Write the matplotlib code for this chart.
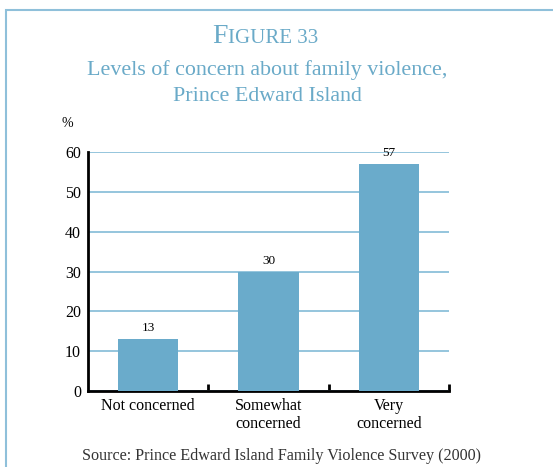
import matplotlib.pyplot as plt
from matplotlib.patches import Rectangle
import numpy as np

# Data
categories = ['Not concerned', 'Somewhat\nconcerned', 'Very\nconcerned']
values = [13, 30, 57]
yticks = [0, 10, 20, 30, 40, 50, 60]

blue = '#6aabcb'
title_col = '#6aaac8'
grid_col = '#8cc0da'
serif = 'Liberation Serif'

W, H = 553, 467
fig = plt.figure(figsize=(W / 100, H / 100), dpi=100)

# outer frame (light blue, cut off at right/bottom)
fig.patches.append(Rectangle((6 / W, -0.1), 1.2, (H - 10) / H + 0.1, transform=fig.transFigure,
                             fill=False, edgecolor='#8fc0da', linewidth=1.5))

ax = fig.add_axes([88 / W, 76 / H, 361 / W, 239 / H])
x = np.arange(len(categories))
ax.bar(x, values, width=0.5, color=blue, zorder=3)
for xi, v in zip(x, values):
    ax.text(xi, v + 1.2, str(v), ha='center', va='bottom', fontsize=9.5, family=serif)

ax.set_xlim(-0.5, 2.5)
ax.set_ylim(0, 60)
ax.set_yticks(yticks)
ax.set_yticklabels([str(t) for t in yticks], family=serif, fontsize=11.5)
ax.tick_params(axis='y', length=0, pad=5)
ax.yaxis.grid(True, color=grid_col, linewidth=1.3, zorder=0)
ax.set_axisbelow(True)

ax.set_xticks(x)
ax.set_xticklabels(categories, family=serif, fontsize=11.5, linespacing=1.2)
ax.tick_params(axis='x', which='major', length=0, pad=5)
ax.set_xticks([0.5, 1.5, 2.5], minor=True)
ax.tick_params(axis='x', which='minor', direction='in', length=5, width=2)

for s in ['top', 'right']:
    ax.spines[s].set_visible(False)
for s in ['left', 'bottom']:
    ax.spines[s].set_linewidth(2)
    ax.spines[s].set_color('black')

ax.text(-0.04, 1.12, '%', transform=ax.transAxes, ha='right', va='center', family=serif, fontsize=10)

# title: small caps "FIGURE 33"
fig.text(228 / W, 1 - 43 / H, 'F', ha='right', va='baseline', color=title_col, family=serif, fontsize=20)
fig.text(228 / W, 1 - 43 / H, 'IGURE 33', ha='left', va='baseline', color=title_col, family=serif, fontsize=15)
fig.text(267 / W, 1 - 75 / H, 'Levels of concern about family violence,', ha='center', va='baseline',
         color=title_col, family=serif, fontsize=15.8)
fig.text(267 / W, 1 - 101 / H, 'Prince Edward Island', ha='center', va='baseline',
         color=title_col, family=serif, fontsize=15.8)

fig.text(281 / W, 1 - 460 / H, 'Source: Prince Edward Island Family Violence Survey (2000)', ha='center',
         va='baseline', color='#333333', family=serif, fontsize=11.6)

fig.savefig('out.png', dpi=100)
